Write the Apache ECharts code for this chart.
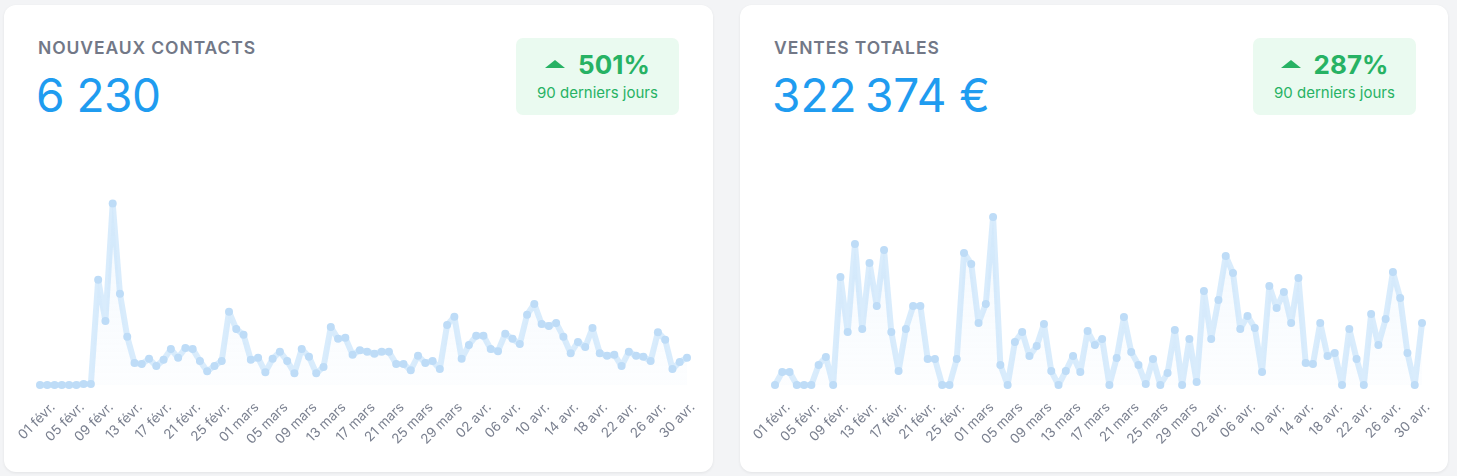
<!DOCTYPE html>
<html>
<head>
<meta charset="utf-8">
<script src="https://cdn.jsdelivr.net/npm/echarts@6/dist/echarts.min.js"></script>
<style>
  html, body { margin: 0; padding: 0; background: #f3f4f6; }
  body { width: 1457px; height: 476px; position: relative; overflow: hidden; font-family: Inter, "Noto Sans", sans-serif; }
  .card { position: absolute; top: 5px; height: 467px; background: #fff; border-radius: 12px; box-shadow: 0 1px 3px rgba(0,0,0,0.07); }
  .title { position: absolute; left: 34px; top: 32px; font-size: 17.5px; font-weight: 600; color: #727887; letter-spacing: 0.9px; }
  .value { position: absolute; left: 32px; top: 62px; font-size: 46px; font-weight: 400; color: #1f9cf0; letter-spacing: -0.5px; }
  .badge { position: absolute; top: 33px; width: 163px; height: 77px; background: #eafaf0; border-radius: 7px; color: #27b264; text-align: center; }
  .badge .pct { margin-top: 11px; font-size: 26px; font-weight: 700; line-height: 32px; }
  .badge .pct .tri { display: inline-block; width: 0; height: 0; border-left: 10px solid transparent; border-right: 10px solid transparent; border-bottom: 8px solid #27b264; margin-right: 13px; vertical-align: 6px; }
  .badge .sub { font-size: 15px; margin-top: 2px; }
  #chart { position: absolute; left: 0; top: 0; width: 1457px; height: 476px; }
</style>
</head>
<body>
<div class="card" style="left:4px;width:709px;">
  <div class="title">NOUVEAUX CONTACTS</div>
  <div class="value">6 230</div>
  <div class="badge" style="left:512px;"><div class="pct"><span class="tri"></span>501%</div><div class="sub">90 derniers jours</div></div>
</div>
<div class="card" style="left:740px;width:708px;">
  <div class="title">VENTES TOTALES</div>
  <div class="value">322&#8239;374 €</div>
  <div class="badge" style="left:513px;"><div class="pct"><span class="tri"></span>287%</div><div class="sub">90 derniers jours</div></div>
</div>
<div id="chart"></div>
<script>
// 90 jours, 01 févr. -> 01 mai
const days = [
  '01 févr.','02 févr.','03 févr.','04 févr.','05 févr.','06 févr.','07 févr.','08 févr.','09 févr.','10 févr.',
  '11 févr.','12 févr.','13 févr.','14 févr.','15 févr.','16 févr.','17 févr.','18 févr.','19 févr.','20 févr.',
  '21 févr.','22 févr.','23 févr.','24 févr.','25 févr.','26 févr.','27 févr.','28 févr.','01 mars','02 mars',
  '03 mars','04 mars','05 mars','06 mars','07 mars','08 mars','09 mars','10 mars','11 mars','12 mars',
  '13 mars','14 mars','15 mars','16 mars','17 mars','18 mars','19 mars','20 mars','21 mars','22 mars',
  '23 mars','24 mars','25 mars','26 mars','27 mars','28 mars','29 mars','30 mars','31 mars','01 avr.',
  '02 avr.','03 avr.','04 avr.','05 avr.','06 avr.','07 avr.','08 avr.','09 avr.','10 avr.','11 avr.',
  '12 avr.','13 avr.','14 avr.','15 avr.','16 avr.','17 avr.','18 avr.','19 avr.','20 avr.','21 avr.',
  '22 avr.','23 avr.','24 avr.','25 avr.','26 avr.','27 avr.','28 avr.','29 avr.','30 avr.','01 mai'
];

const contacts = [
  0,0,0,0,0,0,2,2,205,125,354,178,94,43,41,51,37,49,70,53,
  72,70,47,27,37,47,143,109,98,49,53,25,51,65,47,23,70,55,23,35,
  113,90,92,59,68,65,61,65,65,41,41,29,57,43,47,31,117,133,51,78,
  96,96,70,66,100,90,80,137,158,119,115,121,94,62,84,74,111,62,57,59,
  37,65,57,55,47,103,88,31,45,53
];

const sales = [
  0,990,990,0,0,0,1520,2130,0,8210,4030,10720,4260,9270,6000,10260,4030,1060,4260,6000,
  6000,1980,1980,0,0,1980,10030,9200,4710,6160,12770,1520,0,3270,4030,2200,2960,4640,1060,0,
  1060,2200,990,4100,3040,3500,0,2050,5170,2510,1520,80,1980,0,910,4180,0,3500,230,7140,
  3500,6460,9800,8510,4260,5240,4330,990,7520,5850,7070,4710,8130,1670,1600,4710,2200,2430,0,4260,
  1980,0,5400,3040,5020,8590,6610,2430,0,4710
];

const chart = echarts.init(document.getElementById('chart'), null, { renderer: 'canvas' });

// the date labels sit a bit to the right of their point, so they get their own grid
function xAxisFor(idx, withLabels) {
  return {
    type: 'category',
    gridIndex: idx,
    data: days,
    boundaryGap: false,
    axisLine: { show: false },
    axisTick: { show: false },
    splitLine: { show: false },
    axisLabel: {
      show: withLabels,
      interval: 3,
      rotate: 45,
      margin: 20,
      color: '#7b8190',
      fontSize: 13.5,
      fontFamily: 'Inter, "Noto Sans", sans-serif'
    }
  };
}

function yAxisFor(idx, max) {
  return { type: 'value', gridIndex: idx, min: 0, max: max, show: false };
}

function seriesFor(idx, data) {
  return {
    type: 'line',
    xAxisIndex: idx,
    yAxisIndex: idx,
    data: data,
    symbol: 'circle',
    symbolSize: 8,
    showAllSymbol: true,
    animation: false,
    lineStyle: { width: 6, color: 'rgba(186, 220, 250, 0.55)' },
    itemStyle: { color: '#bedcf7' },
    areaStyle: {
      color: new echarts.graphic.LinearGradient(0, 0, 0, 1, [
        { offset: 0, color: 'rgba(200, 226, 250, 0.35)' },
        { offset: 1, color: 'rgba(235, 244, 253, 0.2)' }
      ])
    }
  };
}

chart.setOption({
  animation: false,
  grid: [
    { left: 40, top: 185, width: 647, height: 200 },
    { left: 775, top: 185, width: 647, height: 200 },
    { left: 53, top: 185, width: 647, height: 200 },
    { left: 788, top: 185, width: 647, height: 200 }
  ],
  xAxis: [xAxisFor(0, false), xAxisFor(1, false), xAxisFor(2, true), xAxisFor(3, true)],
  yAxis: [yAxisFor(0, 390), yAxisFor(1, 15200), yAxisFor(2, 390), yAxisFor(3, 15200)],
  series: [seriesFor(0, contacts), seriesFor(1, sales)]
});
</script>
</body>
</html>
